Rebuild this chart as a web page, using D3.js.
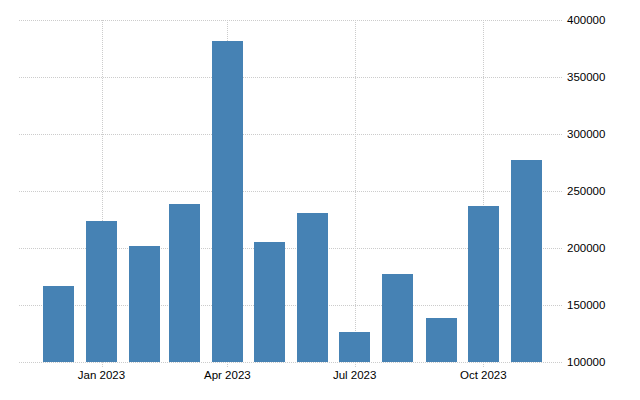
<!DOCTYPE html>
<html lang="en">
<head>
<meta charset="UTF-8">
<title>Monthly bars</title>
<style>
  * { margin: 0; padding: 0; }
  body { background: #fff; width: 640px; height: 400px; overflow: hidden; }
  .grid line { stroke: #cccccc; stroke-width: 1px; stroke-dasharray: 1,1; shape-rendering: crispEdges; }
  .lbl { font-family: "Liberation Sans", Arial, sans-serif; font-size: 11.5px; fill: #000; }
</style>
</head>
<body>
<svg id="svg" width="640" height="400"></svg>
<script src="https://d3js.org/d3.v7.min.js"></script>
<script>
// months (first of month) and values
const months = ['2022-12', '2023-01', '2023-02', '2023-03', '2023-04', '2023-05',
                '2023-06', '2023-07', '2023-08', '2023-09', '2023-10', '2023-11'];
const values = [166700, 223700, 201800, 238600, 381600, 205300,
                230700, 126300, 177200, 138600, 236800, 277200];
const yTicks = [100000, 150000, 200000, 250000, 300000, 350000, 400000];
const xTicks = ['2023-01', '2023-04', '2023-07', '2023-10'];

const parse = d3.timeParse('%Y-%m');
const svg = d3.select('#svg');

const x = d3.scaleTime()
  .domain([new Date(2022, 10, 3), new Date(2023, 10, 27)])
  .range([19, 563]);
const y = d3.scaleLinear().domain([100000, 400000]).range([362, 20]);

const grid = svg.append('g').attr('class', 'grid');
grid.selectAll('line.h').data(yTicks).join('line')
  .attr('class', 'h')
  .attr('x1', 19).attr('x2', 563)
  .attr('y1', d => Math.round(y(d)) + 0.5).attr('y2', d => Math.round(y(d)) + 0.5);
grid.selectAll('line.v').data(xTicks).join('line')
  .attr('class', 'v')
  .attr('x1', d => Math.round(x(parse(d))) + 0.5).attr('x2', d => Math.round(x(parse(d))) + 0.5)
  .attr('y1', 20).attr('y2', 367);

// bars
const barW = 31;
svg.append('g').selectAll('rect')
  .data(months.map((m, i) => ({ date: parse(m), v: values[i] }))).join('rect')
  .attr('x', d => Math.round(x(d.date) - barW / 2))
  .attr('width', barW)
  .attr('y', d => Math.round(y(d.v)))
  .attr('height', d => Math.round(y(100000)) - Math.round(y(d.v)))
  .attr('fill', '#4682b4');

// y labels on right
svg.append('g').selectAll('text').data(yTicks).join('text')
  .attr('class', 'lbl')
  .attr('x', 567).attr('y', d => y(d)).attr('dy', '0.35em')
  .text(d => d);

// x labels
const fmt = d3.timeFormat('%b %Y');
svg.append('g').selectAll('text').data(xTicks).join('text')
  .attr('class', 'lbl')
  .attr('text-anchor', 'middle')
  .attr('x', d => x(parse(d))).attr('y', 379)
  .text(d => fmt(parse(d)));
</script>
</body>
</html>
